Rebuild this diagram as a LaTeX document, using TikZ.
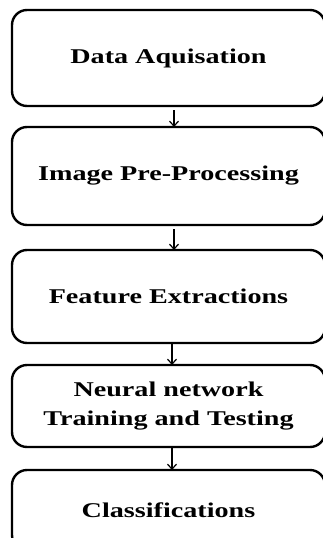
\documentclass[tikz,border=0pt]{standalone}
\usepackage{fontspec}
\setmainfont{Liberation Serif}[FakeStretch=1.34]
\newcommand*{\stepfont}{\bfseries\fontsize{21}{29}\selectfont}
\usepackage{tikz}
\usetikzlibrary{arrows.meta}
\usetikzlibrary{positioning}
\tikzstyle{base}=[inner sep=0pt, outer sep=0pt]
\tikzstyle{stagebox}=[draw, black, line width=2.4pt, rounded corners=15pt, minimum width=313pt, align=center, font=\stepfont]
\tikzstyle{flow}=[black, line width=1.2pt, -{Straight Barb[length=5pt,width=9pt]}]

\begin{document}
\begin{tikzpicture}[base]
    \clip (0,0) rectangle (323pt,-538pt);
    \path [use as bounding box] (0,0) rectangle (323pt,-538pt);
        \node [stagebox, minimum height=96pt] (acq) at (168.5pt,-58pt) {Data Aquisation};
        \node [stagebox, minimum height=98pt] (pre) at (168.5pt,-176pt) {Image Pre-Processing};
        \node [stagebox, minimum height=93pt] (feat) at (168.5pt,-296.5pt) {Feature Extractions};
        \node [stagebox, minimum height=82pt] (nn) at (168.5pt,-406pt) {Neural network\\Training and Testing};
        \node [stagebox, minimum height=80pt] (cls) at (168.5pt,-510pt) {Classifications};
        % arrows
        \draw [flow, shorten <=4pt] ([xshift=5.5pt]acq.south) -- ([xshift=5.5pt]pre.north);
        \draw [flow, shorten <=4pt] ([xshift=5.5pt]pre.south) -- ([xshift=5.5pt]feat.north);
        \draw [flow] ([xshift=3.5pt]feat.south) -- ([xshift=3.5pt]nn.north);
        \draw [flow] ([xshift=3.5pt]nn.south) -- ([xshift=3.5pt]cls.north);
    \end{tikzpicture}
\end{document}
